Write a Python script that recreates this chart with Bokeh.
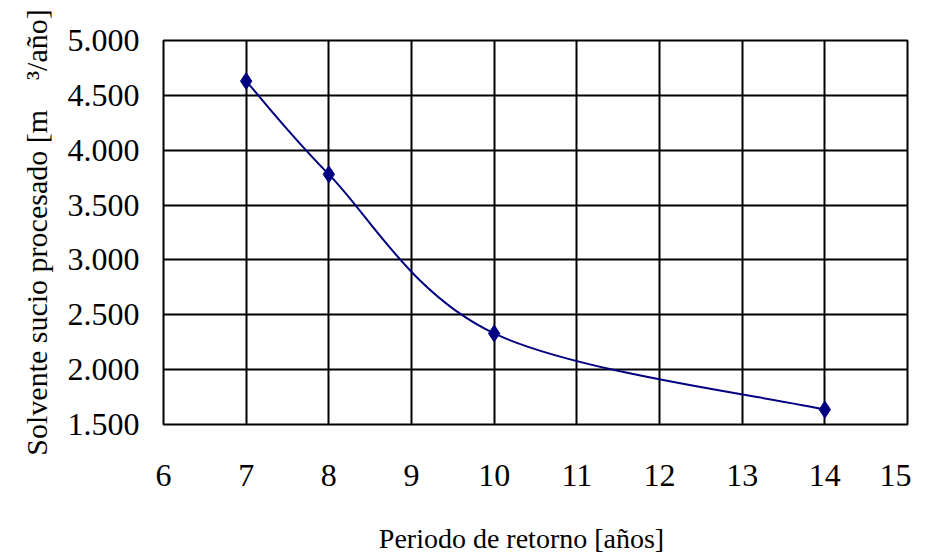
import numpy as np
from bokeh.plotting import figure
from bokeh.models import FixedTicker, Range1d
from bokeh.embed import file_html
from bokeh.resources import INLINE

# ---- data ----
periodo = [7, 8, 10, 14]
solvente = [4630, 3780, 2330, 1636]
x_ticks = [6, 7, 8, 9, 10, 11, 12, 13, 14, 15]
y_ticks = [1500, 2000, 2500, 3000, 3500, 4000, 4500, 5000]
y_tick_labels = ["1.500", "2.000", "2.500", "3.000", "3.500", "4.000", "4.500", "5.000"]
x_title = "Periodo de retorno [años]"
y_title = "Solvente sucio procesado [m" + "\u00a0" * 4 + "\u00b3/año]"

FONT = "Liberation Serif"
NAVY = "#000080"

p = figure(width=911, height=559, output_backend="svg", toolbar_location=None,
           x_range=Range1d(6, 15), y_range=Range1d(1500, 5000),
           frame_width=744, frame_height=384,
           min_border_left=163, min_border_right=4, min_border_top=40, min_border_bottom=135)
p.background_fill_color = "white"
p.border_fill_color = "white"
p.outline_line_color = "black"
p.outline_line_width = 2

# grid
for g, ticks in ((p.xgrid, x_ticks), (p.ygrid, y_ticks)):
    g.ticker = FixedTicker(ticks=ticks)
    g.grid_line_color = "black"
    g.grid_line_width = 2
    g.grid_line_alpha = 1

# axes
p.xaxis.ticker = FixedTicker(ticks=x_ticks)
p.yaxis.ticker = FixedTicker(ticks=y_ticks)
p.yaxis.major_label_overrides = {t: l for t, l in zip(y_ticks, y_tick_labels)}
for ax in (p.xaxis, p.yaxis):
    ax.axis_line_color = None
    ax.major_tick_line_color = None
    ax.minor_tick_line_color = None
    ax.major_label_text_font = FONT
    ax.major_label_text_font_size = "32px"
    ax.major_label_text_color = "black"
    ax.axis_label_text_font = FONT
    ax.axis_label_text_font_style = "normal"
    ax.axis_label_text_color = "black"
p.xaxis.axis_label_text_font_size = "28px"
p.yaxis.axis_label_text_font_size = "30px"
p.yaxis.major_label_standoff = 18
p.xaxis.major_label_standoff = 34
p.xaxis.axis_label = x_title + "\u00a0" * 4
p.yaxis.axis_label = y_title
p.xaxis.axis_label_standoff = 34
p.yaxis.axis_label_standoff = 12

# smoothed line (Catmull-Rom as cubic Bezier segments through data points)
px = np.array(periodo, dtype=float)
py = np.array(solvente, dtype=float)
n = len(px)
ext_x = np.concatenate([[px[0]], px, [px[-1]]])
ext_y = np.concatenate([[py[0]], py, [py[-1]]])
x0, y0 = px[:-1], py[:-1]
x1, y1 = px[1:], py[1:]
cx0 = x0 + (ext_x[2:n+1] - ext_x[0:n-1]) / 6.0
cy0 = y0 + (ext_y[2:n+1] - ext_y[0:n-1]) / 6.0
cx1 = x1 - (ext_x[3:n+2] - ext_x[1:n]) / 6.0
cy1 = y1 - (ext_y[3:n+2] - ext_y[1:n]) / 6.0
p.bezier(x0=x0, y0=y0, x1=x1, y1=y1, cx0=cx0, cy0=cy0, cx1=cx1, cy1=cy1,
         line_color=NAVY, line_width=2)
p.scatter(periodo, solvente, marker="diamond", size=17, fill_color=NAVY, line_color=NAVY)

open("out.html", "w").write(file_html(p, INLINE))
